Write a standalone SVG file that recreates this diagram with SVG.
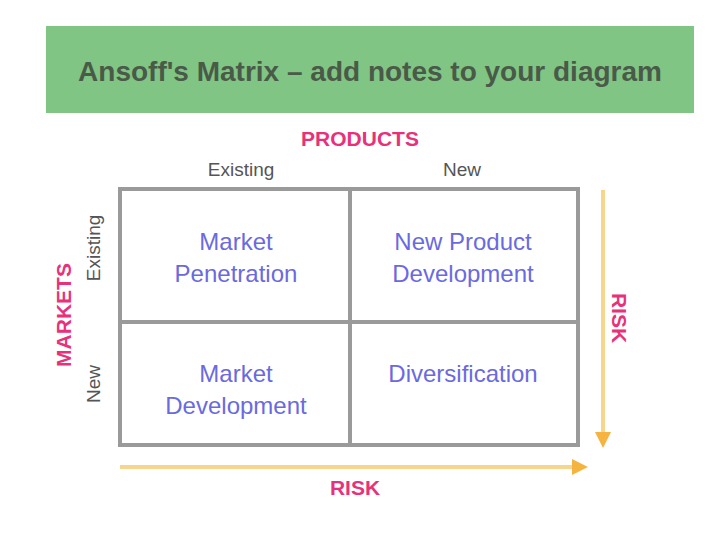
<svg xmlns="http://www.w3.org/2000/svg" width="720" height="540" viewBox="0 0 720 540">
<defs>
<style>
.title{font-family:"Liberation Sans",Arial,sans-serif;font-weight:bold;font-size:28px;fill:#4a5a48}
.head{font-family:"Liberation Sans",Arial,sans-serif;font-weight:bold;font-size:21px;fill:#e8317a}
.lab{font-family:"Liberation Sans",Arial,sans-serif;font-size:19px;fill:#555}
.cell{font-family:"Liberation Sans",Arial,sans-serif;font-size:24px;fill:#6a6ae0}
.grid{fill:none;stroke:#9a9a9a;stroke-width:4}
.arr{stroke:#f8d58c;stroke-width:4;fill:none}
</style>
<marker id="ah" viewBox="0 0 10 10" refX="5" refY="5" markerWidth="4" markerHeight="4" orient="auto">
<path d="M0,0 L10,5 L0,10 z" fill="#f5b340"/>
</marker>
</defs>
<rect width="720" height="540" fill="#ffffff"/>
<g id="banner">
<rect x="46" y="26" width="648" height="87" fill="#80c584"/>
<text class="title" x="370" y="81" text-anchor="middle">Ansoff's Matrix – add notes to your diagram</text>
</g>
<g id="labels">
<text class="head" x="360" y="146" text-anchor="middle">PRODUCTS</text>
<text class="lab" x="241" y="176" text-anchor="middle">Existing</text>
<text class="lab" x="462" y="176" text-anchor="middle">New</text>
<text class="head" transform="translate(71,315) rotate(-90)" text-anchor="middle">MARKETS</text>
<text class="lab" transform="translate(100,248) rotate(-90)" text-anchor="middle">Existing</text>
<text class="lab" transform="translate(100,384) rotate(-90)" text-anchor="middle">New</text>
<text class="head" transform="translate(612,318) rotate(90)" text-anchor="middle">RISK</text>
<text class="head" x="355" y="495" text-anchor="middle">RISK</text>
</g>
<g id="grid">
<rect class="grid" x="120" y="189" width="458" height="256"/>
<line class="grid" x1="350" y1="189" x2="350" y2="445"/>
<line class="grid" x1="120" y1="322" x2="578" y2="322"/>
</g>
<g id="cell-penetration">
<text class="cell" x="236" y="250" text-anchor="middle">Market</text>
<text class="cell" x="236" y="282" text-anchor="middle">Penetration</text>
</g>
<g id="cell-npd">
<text class="cell" x="463" y="250" text-anchor="middle">New Product</text>
<text class="cell" x="463" y="282" text-anchor="middle">Development</text>
</g>
<g id="cell-md">
<text class="cell" x="236" y="382" text-anchor="middle">Market</text>
<text class="cell" x="236" y="414" text-anchor="middle">Development</text>
</g>
<g id="cell-div">
<text class="cell" x="463" y="382" text-anchor="middle">Diversification</text>
</g>
<g id="connectors">
<line class="arr" x1="603" y1="190" x2="603" y2="440" marker-end="url(#ah)"/>
<line class="arr" x1="120" y1="467" x2="580" y2="467" marker-end="url(#ah)"/>
</g>
</svg>
